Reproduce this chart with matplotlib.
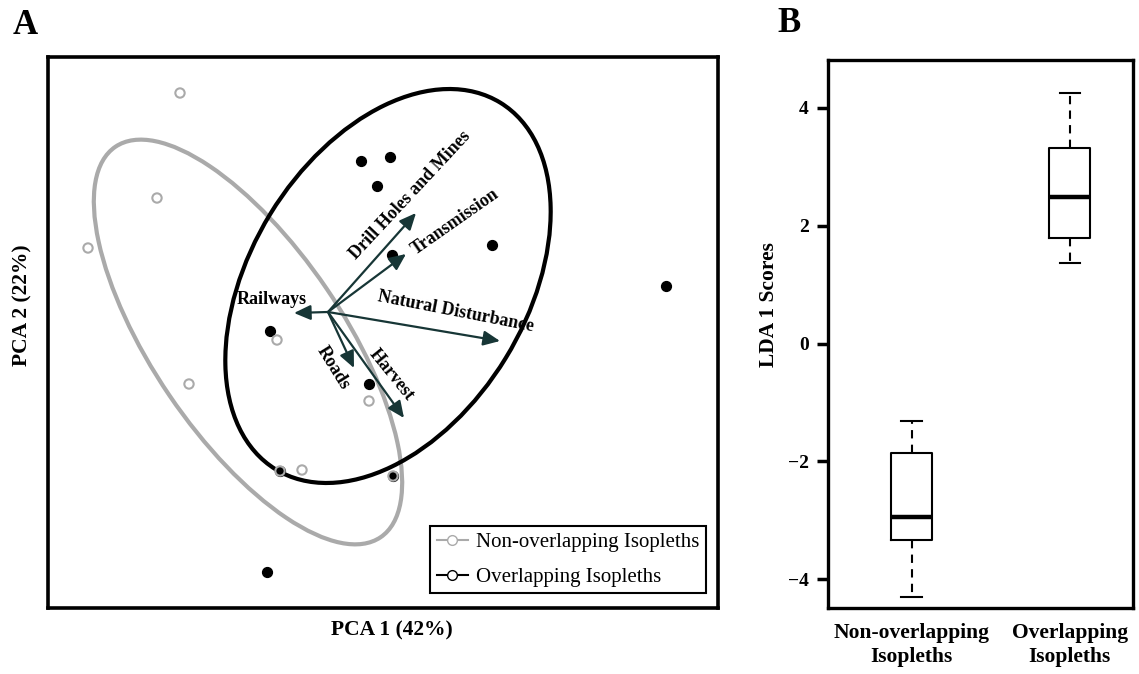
import numpy as np
import matplotlib
matplotlib.use("Agg")
import matplotlib.pyplot as plt
from matplotlib.patches import Ellipse
from matplotlib.lines import Line2D

plt.rcParams['font.family'] = ['Liberation Serif', 'DejaVu Serif']

# ---- Panel A data (PCA scores) ----
non_x = [-1.48, -1.71, -2.40, -1.39, -0.51, 0.41, -0.26, -0.48, 0.65]
non_y = [2.19, 1.14, 0.64, -0.72, -0.28, -0.89, -1.58, -1.59, -1.64]
ovl_x = [0.33, 0.62, 0.49, 0.64, 1.64, 3.38, -0.58, 0.41, -0.61, -0.48, 0.65]
ovl_y = [1.51, 1.55, 1.26, 0.57, 0.67, 0.26, -0.19, -0.72, -2.60, -1.59, -1.64]

# loadings (arrow tips)
var_names = ["Railways", "Drill Holes and Mines", "Transmission",
             "Natural Disturbance", "Roads", "Harvest"]
load_x = [-0.34, 0.88, 0.78, 1.72, 0.26, 0.76]
load_y = [-0.01, 0.99, 0.58, -0.29, -0.56, -1.06]
lab_x = [-0.56, 0.82, 1.27, 1.28, 0.05, 0.63]
lab_y = [0.13, 1.17, 0.90, 0.00, -0.56, -0.63]
lab_rot = [0, 47, 35, -11, -58, -51]

# ellipses: center x, center y, width, height, angle
ell_non = (-0.80, -0.30, 4.72, 1.90, -55.8)
ell_ovl = (0.60, 0.26, 4.30, 2.76, 58.5)

# ---- Panel B data (LDA 1 scores) ----
groups = ["Non-overlapping\nIsopleths", "Overlapping\nIsopleths"]
whislo = [-4.31, 1.36]
q1 = [-3.34, 1.79]
med = [-2.95, 2.49]
q3 = [-1.86, 3.32]
whishi = [-1.31, 4.25]

fig = plt.figure(figsize=(11.39, 6.74), dpi=100)

# Panel A
axA = fig.add_axes([48/1139, 66/674, 670/1139, 551/674])
axA.set_xlim(-2.80, 3.90)
axA.set_ylim(-2.96, 2.55)
axA.set_xticks([])
axA.set_yticks([])
for s in axA.spines.values():
    s.set_linewidth(2.6)

gray = "#aaaaaa"
e1 = Ellipse((ell_non[0], ell_non[1]), ell_non[2], ell_non[3], angle=ell_non[4],
             fill=False, edgecolor=gray, lw=3)
e2 = Ellipse((ell_ovl[0], ell_ovl[1]), ell_ovl[2], ell_ovl[3], angle=ell_ovl[4],
             fill=False, edgecolor="black", lw=3)
axA.add_patch(e1)
axA.add_patch(e2)

axA.scatter(ovl_x, ovl_y, s=50, color="black", zorder=3)
axA.scatter(non_x, non_y, s=45, facecolor="none", edgecolor=gray, lw=1.5, zorder=4)

arrow_col = "#173636"
for i in range(len(var_names)):
    axA.annotate("", xy=(load_x[i], load_y[i]), xytext=(0, 0),
                 arrowprops=dict(arrowstyle="-|>,head_length=1.0,head_width=0.45",
                                 color=arrow_col, lw=1.6, shrinkA=0, shrinkB=0),
                 zorder=5)
    axA.text(lab_x[i], lab_y[i], var_names[i], rotation=lab_rot[i],
             ha="center", va="center", fontsize=13, fontweight="bold",
             rotation_mode="anchor", zorder=6)

handles = [Line2D([], [], color=gray, marker="o", markerfacecolor="white",
                  markeredgecolor=gray, markersize=7, lw=1.5),
           Line2D([], [], color="black", marker="o", markerfacecolor="white",
                  markeredgecolor="black", markersize=7, lw=1.5)]
leg = axA.legend(handles, ["Non-overlapping Isopleths", "Overlapping Isopleths"],
                 loc="lower right", bbox_to_anchor=(0.982, 0.027), fontsize=15,
                 fancybox=False, framealpha=1, edgecolor="black",
                 handlelength=1.5, handletextpad=0.4, borderpad=0.3,
                 labelspacing=0.72, borderaxespad=0)
leg.get_frame().set_linewidth(1.5)

fig.text(392/1139, 1 - 630/674, "PCA 1 (42%)", ha="center", va="center",
         fontsize=15.5, fontweight="bold")
fig.text(22/1139, 1 - 305/674, "PCA 2 (22%)", ha="center", va="center",
         rotation=90, fontsize=15.5, fontweight="bold")
fig.text(25/1139, 1 - 25/674, "A", ha="center", va="center",
         fontsize=25, fontweight="bold")

# Panel B
axB = fig.add_axes([828/1139, 66/674, 305/1139, 548/674])
stats = []
for i in range(len(groups)):
    stats.append(dict(med=med[i], q1=q1[i], q3=q3[i], whislo=whislo[i],
                      whishi=whishi[i], fliers=[]))
axB.bxp(stats, positions=[1, 2], widths=0.26, showfliers=False,
        boxprops=dict(color="black", lw=1.5),
        medianprops=dict(color="black", lw=3.2),
        whiskerprops=dict(color="black", lw=1.5, linestyle=(0, (4, 3))),
        capprops=dict(color="black", lw=1.5), capwidths=0.13)
axB.set_xlim(0.47, 2.40)
axB.set_ylim(-4.49, 4.815)
axB.set_yticks([-4, -2, 0, 2, 4])
axB.set_yticklabels(["\u22124", "\u22122", "0", "2", "4"])
axB.set_xticks([1, 2])
axB.set_xticklabels(groups, linespacing=1.25)
axB.tick_params(axis="y", length=8, width=2.5, labelsize=14, pad=6)
axB.tick_params(axis="x", length=0, labelsize=15.5, pad=11)
for lab in axB.get_yticklabels() + axB.get_xticklabels():
    lab.set_fontweight("bold")
for s in axB.spines.values():
    s.set_linewidth(2.4)

fig.text(769/1139, 1 - 305/674, "LDA 1 Scores", ha="center", va="center",
         rotation=90, fontsize=15.5, fontweight="bold")
fig.text(789/1139, 1 - 24/674, "B", ha="center", va="center",
         fontsize=25, fontweight="bold")

fig.savefig("out.png", dpi=100)
